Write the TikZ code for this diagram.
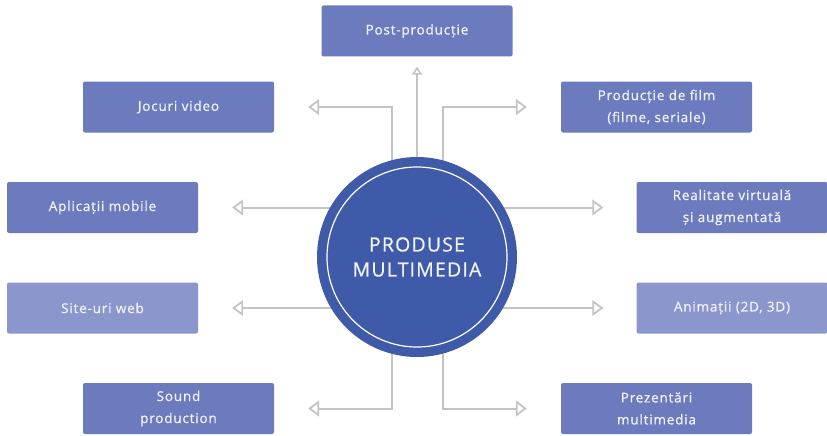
\documentclass[tikz,border=0pt]{standalone}
\usepackage{fontspec}
\setmainfont{Open Sans}[LetterSpace=6,FakeBold=0.7]
\usetikzlibrary{arrows.meta,backgrounds,calc}
\definecolor{boxc}{HTML}{6B7BBE}
\definecolor{boxl}{HTML}{8A96CC}
\definecolor{circc}{HTML}{3F5AA8}
\definecolor{linec}{HTML}{C4C4C4}
\definecolor{txtc}{HTML}{F2F3FA}
\begin{document}
\begin{tikzpicture}[x=1pt,y=-1pt,
  itembox/.style={draw=none,fill=boxc,rounded corners=2pt,minimum width=191pt,minimum height=51pt,
    text=txtc,font=\fontsize{13.5}{22}\selectfont,align=center,inner sep=0pt},
  lightbox/.style={itembox,fill=boxl},
  conn/.style={draw=linec,line width=2pt,-{Triangle[open,length=11pt,width=16pt,line width=1.8pt]}},
  upconn/.style={draw=linec,line width=2pt,-{Triangle[open,length=8pt,width=10pt,line width=1.6pt]}}]
\useasboundingbox (0,0) rectangle (827,436);
\node[itembox] (post) at (417,31) {Post-producție};
\node[itembox] (jocuri) at (178.5,107) {Jocuri video};
\node[itembox] (film) at (656.5,107) {Producție de film\\(filme, seriale)};
\node[itembox] (apl) at (102.5,207.5) {Aplicații mobile};
\node[itembox] (real) at (732,207.5) {Realitate virtuală\\și augmentată};
\node[lightbox] (site) at (102.5,308) {Site-uri web};
\node[lightbox] (anim) at (732,308) {Animații (2D, 3D)};
\node[itembox] (sound) at (178.5,408.5) {Sound\\production};
\node[itembox] (prez) at (656.5,408.5) {Prezentări\\multimedia};
\node[circle,fill=circc,minimum size=200pt,inner sep=0pt,text=txtc,align=center,
  font=\fontsize{19.5}{25}\selectfont] (c) at (417,257) {PRODUSE\\MULTIMEDIA};
\draw[white,line width=1.2pt] (c.center) circle[radius=90pt];
\begin{scope}[on background layer]
\draw[upconn] (c.center) -- ([yshift=-10pt]post.south);
\draw[conn] ([xshift=-25pt]c.center) |- ([xshift=34pt]jocuri.east);
\draw[conn] ([xshift=26pt]c.center) |- ([xshift=-34pt]film.west);
\draw[conn] (c.center |- apl) -- ([xshift=34pt]apl.east);
\draw[conn] (c.center |- site) -- ([xshift=34pt]site.east);
\draw[conn] (c.center |- real) -- ([xshift=-33pt]real.west);
\draw[conn] (c.center |- anim) -- ([xshift=-33pt]anim.west);
\draw[conn] ([xshift=-25pt]c.center) |- ([xshift=34pt]sound.east);
\draw[conn] ([xshift=26pt]c.center) |- ([xshift=-34pt]prez.west);
\end{scope}
\end{tikzpicture}
\end{document}
